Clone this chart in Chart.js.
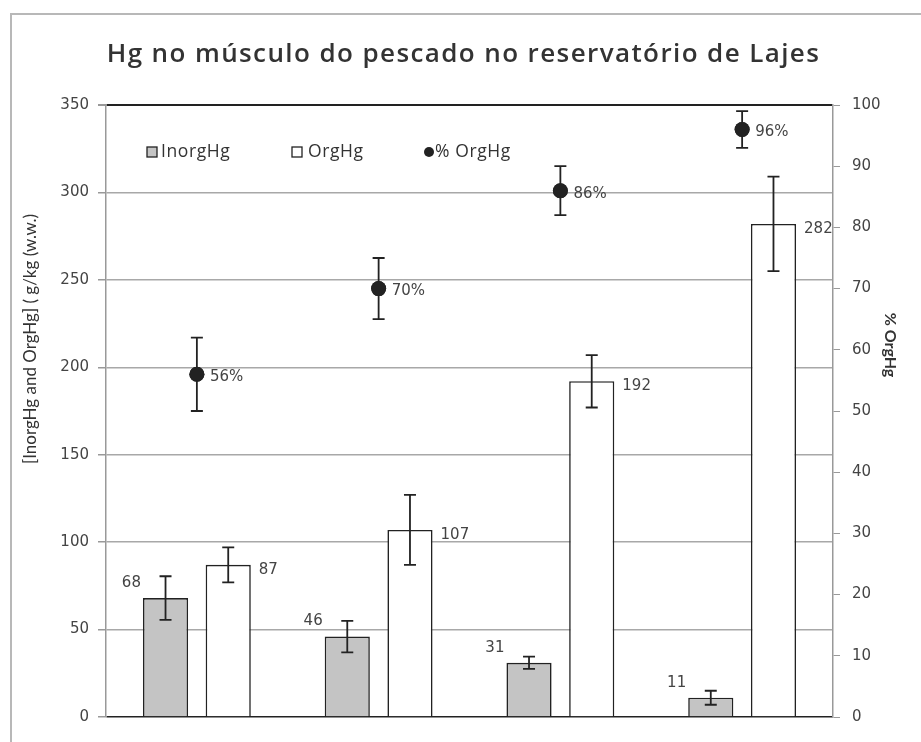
<!DOCTYPE html>
<html>
<head>
<meta charset="utf-8">
<title>Hg no músculo do pescado</title>
<script src="https://cdn.jsdelivr.net/npm/chart.js@4.4.1/dist/chart.umd.min.js"></script>
<style>
  body { margin: 0; background: #fff; overflow: hidden; }
  #frame {
    position: absolute; left: 10px; top: 13px; width: 1000px; height: 1000px;
    border-left: 2px solid #b8b8b8; border-top: 2px solid #b8b8b8;
  }
  #hgChart { position: absolute; left: 0; top: 0; }
</style>
</head>
<body>
<div id="frame"></div>
<canvas id="hgChart" width="921" height="742"></canvas>
<script>
// groups have no labels in the original
const groups = ['', '', '', ''];
const inorgHg = [68, 46, 31, 11];
const inorgHgErr = [12.5, 9, 3.5, 4];
const orgHg = [87, 107, 192, 282];
const orgHgErr = [10, 20, 15, 27];
const pctOrgHg = [56, 70, 86, 96];
const pctOrgHgErr = [6, 5, 4, 3];
const leftTicks = [0, 50, 100, 150, 200, 250, 300, 350];
const rightTicks = [0, 10, 20, 30, 40, 50, 60, 70, 80, 90, 100];

const titleText = 'Hg no músculo do pescado no reservatório de Lajes';
const leftTitle = '[InorgHg and OrgHg] ( g/kg (w.w.)';
const rightTitle = '% OrgHg';
const legendItems = ['InorgHg', 'OrgHg', '% OrgHg'];

const inkColor = '#222';
const labelColor = '#444';
const labelFont = '15px "DejaVu Sans"';

// error bars over bars and points
const errorBarPlugin = {
  id: 'errorBars',
  afterDatasetsDraw(chart) {
    const ctx = chart.ctx;
    const errs = [inorgHgErr, orgHgErr, pctOrgHgErr];
    ctx.save();
    ctx.strokeStyle = inkColor;
    ctx.lineWidth = 1.8;
    chart.data.datasets.forEach((ds, di) => {
      const meta = chart.getDatasetMeta(di);
      const yScale = chart.scales[ds.yAxisID];
      meta.data.forEach((el, i) => {
        const v = ds.data[i];
        const e = errs[di][i];
        const top = yScale.getPixelForValue(v + e);
        const bottom = yScale.getPixelForValue(v - e);
        const cap = 6;
        ctx.beginPath();
        ctx.moveTo(el.x, top);
        ctx.lineTo(el.x, bottom);
        ctx.moveTo(el.x - cap, top);
        ctx.lineTo(el.x + cap, top);
        ctx.moveTo(el.x - cap, bottom);
        ctx.lineTo(el.x + cap, bottom);
        ctx.stroke();
      });
      // redraw the dots so they sit over their error line
      if (ds.type === 'line') {
        meta.data.forEach(el => el.draw(ctx));
      }
    });
    ctx.restore();
  }
};

// title, value labels, axis titles and the legend inside the plot
const labelPlugin = {
  id: 'valueLabels',
  afterDraw(chart) {
    const ctx = chart.ctx;
    const area = chart.chartArea;
    ctx.save();
    ctx.textBaseline = 'middle';

    // title, spaced out like the original
    ctx.font = '600 26px "Open Sans"';
    ctx.fillStyle = '#333';
    ctx.textAlign = 'center';
    ctx.letterSpacing = '1.4px';
    ctx.fillText(titleText, (area.left + area.right) / 2 - 6, 55);
    ctx.letterSpacing = '0px';

    ctx.font = labelFont;
    ctx.fillStyle = labelColor;
    const inorgMeta = chart.getDatasetMeta(0);
    inorgMeta.data.forEach((bar, i) => {
      ctx.textAlign = 'right';
      ctx.fillText(String(inorgHg[i]), bar.x - bar.width / 2 - 2, bar.y - 15);
    });
    const orgMeta = chart.getDatasetMeta(1);
    orgMeta.data.forEach((bar, i) => {
      ctx.textAlign = 'left';
      ctx.fillText(String(orgHg[i]), bar.x + bar.width / 2 + 8, bar.y + 5);
    });
    const pctMeta = chart.getDatasetMeta(2);
    pctMeta.data.forEach((pt, i) => {
      ctx.textAlign = 'left';
      ctx.fillText(pctOrgHg[i] + '%', pt.x + 13, pt.y + 3);
    });

    // axis titles
    const midY = (area.top + area.bottom) / 2 - 72;
    ctx.fillStyle = '#333';
    ctx.textAlign = 'center';
    ctx.font = '17px Lato';
    ctx.save();
    ctx.translate(31, midY);
    ctx.rotate(-Math.PI / 2);
    ctx.fillText(leftTitle, 0, 0);
    ctx.restore();
    ctx.font = 'bold 16px Lato';
    ctx.save();
    ctx.translate(area.right + 57, midY + 6);
    ctx.rotate(Math.PI / 2);
    ctx.fillText(rightTitle, 0, 0);
    ctx.restore();

    // legend
    const ly = area.top + 47;
    ctx.font = '17.5px "Open Sans"';
    ctx.letterSpacing = '0.6px';
    ctx.textAlign = 'left';
    ctx.lineWidth = 1.3;
    ctx.strokeStyle = inkColor;
    let lx = area.left + 41;
    ctx.fillStyle = '#c4c4c4';
    ctx.fillRect(lx, ly - 5, 10, 10);
    ctx.strokeRect(lx, ly - 5, 10, 10);
    ctx.fillStyle = '#333';
    ctx.fillText(legendItems[0], lx + 14, ly);
    lx = area.left + 186;
    ctx.fillStyle = '#fff';
    ctx.fillRect(lx, ly - 5, 10, 10);
    ctx.strokeRect(lx, ly - 5, 10, 10);
    ctx.fillStyle = '#333';
    ctx.fillText(legendItems[1], lx + 16, ly);
    lx = area.left + 323;
    ctx.fillStyle = inkColor;
    ctx.beginPath();
    ctx.arc(lx, ly, 5, 0, Math.PI * 2);
    ctx.fill();
    ctx.fillStyle = '#333';
    ctx.fillText(legendItems[2], lx + 6, ly);
    ctx.restore();
  }
};

const ctx = document.getElementById('hgChart').getContext('2d');
const hgChart = new Chart(ctx, {
  type: 'bar',
  data: {
    labels: groups,
    datasets: [
      {
        label: 'InorgHg',
        data: inorgHg,
        yAxisID: 'y',
        backgroundColor: '#c4c4c4',
        borderColor: inkColor,
        borderWidth: 1.6,
        categoryPercentage: 0.69,
        barPercentage: 0.72,
        order: 2
      },
      {
        label: 'OrgHg',
        data: orgHg,
        yAxisID: 'y',
        backgroundColor: '#fff',
        borderColor: inkColor,
        borderWidth: 1.6,
        categoryPercentage: 0.69,
        barPercentage: 0.72,
        order: 2
      },
      {
        type: 'line',
        label: '% OrgHg',
        data: pctOrgHg,
        yAxisID: 'y2',
        showLine: false,
        pointStyle: 'circle',
        pointRadius: 7.5,
        pointBackgroundColor: inkColor,
        pointBorderColor: inkColor,
        pointBorderWidth: 0,
        order: 1
      }
    ]
  },
  options: {
    responsive: false,
    animation: false,
    events: [],
    layout: { padding: { top: 105, left: 0, right: 0, bottom: 25 } },
    plugins: {
      legend: { display: false },
      tooltip: { enabled: false },
      title: { display: false }
    },
    scales: {
      x: {
        display: false,
        offset: true
      },
      y: {
        position: 'left',
        min: 0,
        max: 350,
        afterFit(scale) { scale.width = 106; },
        afterBuildTicks(scale) { scale.ticks = leftTicks.map(v => ({ value: v })); },
        ticks: {
          color: labelColor,
          font: { family: 'DejaVu Sans', size: 15 },
          padding: 9
        },
        grid: {
          color: c => (c.tick.value === 0 || c.tick.value === 350) ? inkColor : '#a8a8a8',
          lineWidth: c => (c.tick.value === 350) ? 2 : 1.5,
          tickColor: '#999',
          tickLength: 8
        },
        border: { display: true, color: '#999', width: 1.5 }
      },
      y2: {
        position: 'right',
        min: 0,
        max: 100,
        afterFit(scale) { scale.width = 88; },
        afterBuildTicks(scale) { scale.ticks = rightTicks.map(v => ({ value: v })); },
        ticks: {
          color: labelColor,
          font: { family: 'DejaVu Sans', size: 15 },
          padding: 12
        },
        grid: {
          drawOnChartArea: false,
          tickColor: '#999',
          tickLength: 7
        },
        border: { display: true, color: '#999', width: 1.5 }
      }
    }
  },
  plugins: [errorBarPlugin, labelPlugin]
});
</script>
</body>
</html>
